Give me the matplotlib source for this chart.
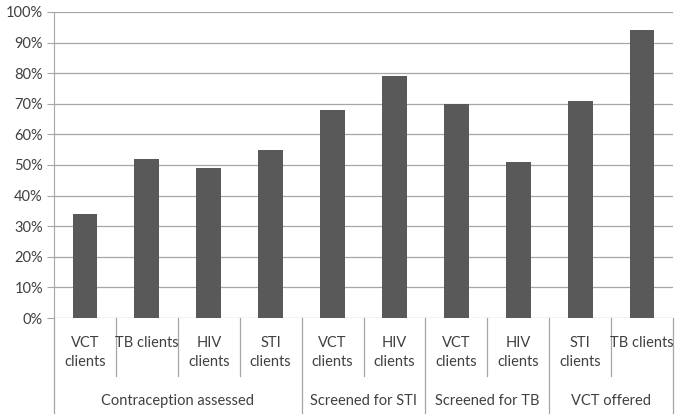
import matplotlib
matplotlib.use("Agg")
import matplotlib.pyplot as plt

plt.rcParams['font.family'] = ['Lato', 'DejaVu Sans']

sub_labels = ["VCT\nclients", "TB clients", "HIV\nclients", "STI\nclients",
              "VCT\nclients", "HIV\nclients", "VCT\nclients", "HIV\nclients",
              "STI\nclients", "TB clients"]
values = [34, 52, 49, 55, 68, 79, 70, 51, 71, 94]
groups = ["Contraception assessed", "Screened for STI", "Screened for TB", "VCT offered"]
group_sizes = [4, 2, 2, 2]
yticks = [0, 10, 20, 30, 40, 50, 60, 70, 80, 90, 100]

fig = plt.figure(figsize=(6.85, 4.16), dpi=100)
ax = fig.add_axes([54/685, 98/416, (673-54)/685, (318-12)/416])

grid_c = '#a6a6a6'
x = list(range(len(values)))
ax.bar(x, values, width=0.4, color='#595959', zorder=3)
ax.set_xlim(-0.5, len(values) - 0.5)
ax.set_ylim(0, 100)
ax.set_yticks(yticks)
ax.set_yticklabels([f"{v}%" for v in yticks], fontsize=10.5, color='#404040')
ax.yaxis.grid(True, color=grid_c, linewidth=0.9, zorder=0)
ax.set_xticks([])
for s in ['top', 'right', 'bottom']:
    ax.spines[s].set_visible(False)
ax.spines['left'].set_color(grid_c)
ax.tick_params(axis='y', length=5, color=grid_c, pad=3)

tr = ax.get_xaxis_transform()
inner_bottom = -0.19
group_bottom = -0.31
bounds = [-0.5]
for g in group_sizes:
    bounds.append(bounds[-1] + g)
for i in range(len(values) + 1):
    b = i - 0.5
    yb = group_bottom if b in bounds else inner_bottom
    ax.plot([b, b], [0, yb], transform=tr, color=grid_c, lw=0.9, clip_on=False)

for i, lab in enumerate(sub_labels):
    ax.text(i, -0.058, lab, transform=tr, ha='center', va='top',
            fontsize=10.5, color='#404040', linespacing=1.45)

for gi, g in enumerate(groups):
    c = (bounds[gi] + bounds[gi + 1]) / 2
    ax.text(c, -0.272, g, transform=tr, ha='center', va='center',
            fontsize=10.5, color='#404040')

fig.savefig("out.png", dpi=100)
